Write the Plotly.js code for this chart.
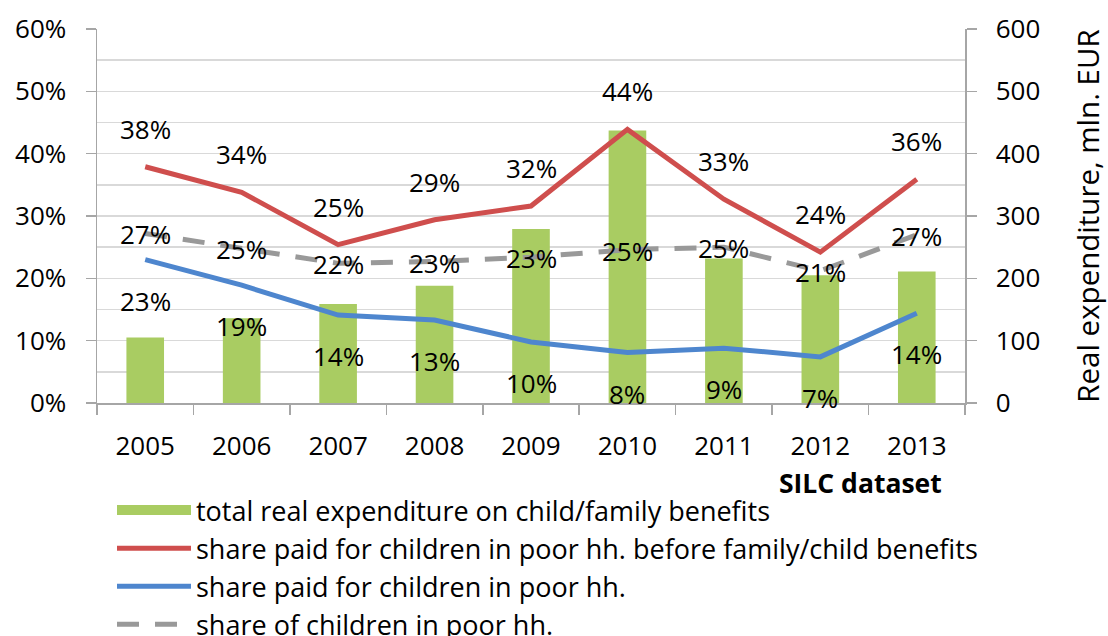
<!DOCTYPE html>
<html><head><meta charset="utf-8">
<script src="https://cdn.plot.ly/plotly-3.0.1.min.js"></script>
<style>html,body{margin:0;padding:0;background:#fff}#chart{width:1108px;height:636px}</style>
</head><body><div id="chart"></div>
<script>
const years = ['2005','2006','2007','2008','2009','2010','2011','2012','2013'];
const expenditure = [105,136,159,188,279,437,232,205,211];
const sharePaidBefore = [37.9,33.8,25.4,29.4,31.6,43.9,32.7,24.2,35.9];
const sharePaid = [23.0,18.9,14.1,13.3,9.8,8.1,8.8,7.4,14.4];
const shareChildren = [27.2,24.8,22.4,22.7,23.4,24.6,25.0,21.2,27.0];
const names = ['total real expenditure on child/family benefits',
  'share paid for children in poor hh. before family/child benefits',
  'share paid for children in poor hh.',
  'share of children in poor hh.'];

const FONT = '"Open Sans", Lato, sans-serif';
const AX = '#A6A6A6', GRID = '#D9D9D9';
const GREEN = '#A9CC62';

const traces = [
  {type:'bar', x:years, y:expenditure, xaxis:'x', yaxis:'y', name:names[0],
   legendgroup:'exp', showlegend:false, marker:{color:GREEN}, hoverinfo:'skip'},
  // legend swatch for the bar series (wide rectangle like the original)
  {type:'scatter', mode:'lines', x:[null], y:[null], xaxis:'x', yaxis:'y', name:names[0],
   legendgroup:'exp', showlegend:true, line:{color:GREEN, width:17}, hoverinfo:'skip'},
  {type:'scatter', mode:'lines', x:years, y:sharePaidBefore, xaxis:'x', yaxis:'y2', name:names[1],
   line:{color:'#CF4E4D', width:5}},
  {type:'scatter', mode:'lines', x:years, y:sharePaid, xaxis:'x', yaxis:'y2', name:names[2],
   line:{color:'#4E86CE', width:5}},
  {type:'scatter', mode:'lines', x:years, y:shareChildren, xaxis:'x', yaxis:'y2', name:names[3],
   line:{color:'#999999', width:5, dash:'22px,16px'}}
];

const annotations = [];
function addLabels(vals, shift){
  // category axis: annotation x is the category index
  vals.forEach((v,i)=>annotations.push({x:i, y:v, xref:'x', yref:'y2',
    text:Math.round(v)+'%', showarrow:false, yshift:shift,
    font:{family:FONT, size:26, color:'#000'}}));
}
addLabels(sharePaidBefore, 38);
addLabels(shareChildren, -1);
addLabels(sharePaid, -41);
annotations.push({xref:'paper', yref:'paper', x:(944-97)/868, y:(403-483)/374,
  xanchor:'right', yanchor:'middle', showarrow:false, text:'<b>SILC dataset</b>',
  font:{family:FONT, size:26.5, color:'#000'}});

const layout = {
  width:1108, height:636,
  margin:{l:97, r:143, t:29, b:233, pad:0, autoexpand:false},
  paper_bgcolor:'#fff', plot_bgcolor:'#fff',
  font:{family:FONT, size:26, color:'#000'},
  bargap:0.61,
  showlegend:true,
  legend:{x:(112-97)/868, y:(403-486)/374, xanchor:'left', yanchor:'top',
    traceorder:'normal', font:{family:FONT, size:27, color:'#000'},
    bgcolor:'rgba(0,0,0,0)', itemwidth:74, tracegroupgap:0},
  xaxis:{type:'category', range:[-0.5, 8.5], tickson:'boundaries', ticks:'outside', ticklen:10,
    tickcolor:AX, tickwidth:1.5, showline:true, linecolor:AX, linewidth:1.5,
    showgrid:false, zeroline:false, tickfont:{size:26}, automargin:false, ticklabelstandoff:19},
  yaxis:{range:[0,600], dtick:100, side:'right', showgrid:true, gridcolor:GRID, gridwidth:1.5,
    minor:{dtick:50, showgrid:true, gridcolor:GRID, gridwidth:1.5, ticks:''},
    showline:true, linecolor:AX, linewidth:1.5, ticks:'outside', ticklen:10,
    tickcolor:AX, tickwidth:1.5, zeroline:false, tickfont:{size:26}, automargin:false,
    ticklabelstandoff:14,
    title:{text:'Real expenditure, mln. EUR', font:{size:29.5}, standoff:40}},
  yaxis2:{overlaying:'y', side:'left', range:[0,60], dtick:10, ticksuffix:'%',
    showgrid:false, zeroline:false, showline:true, linecolor:AX, linewidth:1.5,
    ticks:'outside', ticklen:10, tickcolor:AX, tickwidth:1.5, tickfont:{size:26}, automargin:false,
    ticklabelstandoff:14},
  annotations:annotations
};
Plotly.newPlot('chart', traces, layout, {displayModeBar:false, staticPlot:true});
</script></body></html>
